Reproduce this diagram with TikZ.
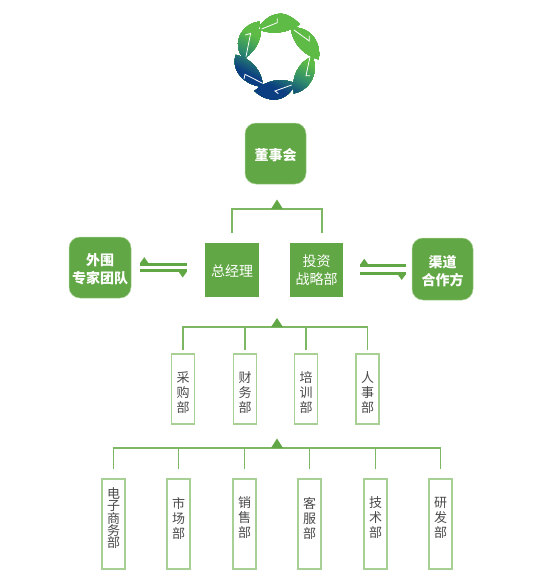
\documentclass[tikz,border=0pt]{standalone}
\usepackage{fontspec}
\setmainfont{Noto Sans CJK SC}
\usetikzlibrary{calc}
\definecolor{gmain}{HTML}{62A745}
\definecolor{gline}{HTML}{7DB764}
\definecolor{gbox}{HTML}{A8CF94}
\definecolor{tgrey}{HTML}{4A4A4A}
\definecolor{lfa}{HTML}{5DBB46}
\definecolor{lfb}{HTML}{2F8C6C}
\definecolor{lfc}{HTML}{0C3F82}
\tikzset{
  boss/.style={fill=gmain,draw=gbox,line width=0.5pt,rounded corners=11pt,inner sep=0pt},
  bossname/.style={text=white,font=\fontsize{14}{17.5}\selectfont\bfseries,align=center,inner sep=0pt},
  core/.style={fill=gmain,inner sep=0pt,minimum width=53.5pt,minimum height=53.5pt},
  corename/.style={text=white,font=\fontsize{14}{18.5}\selectfont,align=center,inner sep=0pt},
  dept/.style={draw=gbox,line width=1.1pt,fill=white,inner sep=0pt,minimum width=23pt},
  deptname/.style={text=tgrey,font=\fontsize{13}{15}\selectfont,align=center,inner sep=0pt},
  linkline/.style={draw=gline,line width=1.1pt},
  tri/.style={fill=gmain},
  bar/.style={draw=gmain,line width=3pt},
  vein/.style={draw=white,line width=0.8pt}
}
\begin{document}
\begin{tikzpicture}[x=1pt,y=-1pt]
\useasboundingbox (0,0) rectangle (550,587);
% logo
\begin{scope}[shift={(220,5)},x=0.3333pt,y=-0.3333pt]
\begin{scope}
\clip
 (113,72) .. controls (135,38) and (160,26) .. (185,26) .. controls (205,28) and (225,42) .. (240,58) .. controls (205,82) and (160,92) .. (113,72) -- cycle
 (212,68) .. controls (265,62) and (305,105) .. (296,163) .. controls (250,150) and (218,115) .. (212,68) -- cycle
 (277,155) .. controls (298,200) and (272,255) .. (222,265) .. controls (212,220) and (235,170) .. (277,155) -- cycle
 (224,235) .. controls (210,285) and (150,302) .. (104,258) .. controls (135,228) and (185,215) .. (224,235) -- cycle
 (128,245) .. controls (75,242) and (30,195) .. (48,150) .. controls (95,160) and (128,200) .. (128,245) -- cycle
 (118,50) .. controls (68,55) and (30,115) .. (72,162) .. controls (112,135) and (132,90) .. (118,50) -- cycle;
\foreach \s in {-100,-96,...,220}{
  \pgfmathsetmacro\mixA{max(0,min(100,(\s-35)/55*100))}
  \pgfmathsetmacro\mixB{max(0,min(100,(\s-90)/55*100))}
  \ifdim\s pt<90pt \colorlet{stripcol}{lfb!\mixA!lfa}\else\colorlet{stripcol}{lfc!\mixB!lfb}\fi
  \fill[stripcol] ($\s*(-0.45,0.89)+500*(0.89,0.45)$) -- ($\s*(-0.45,0.89)-500*(0.89,0.45)$) -- ($\s*(-0.45,0.89)-500*(0.89,0.45)+700*(-0.45,0.89)$) -- ($\s*(-0.45,0.89)+500*(0.89,0.45)+700*(-0.45,0.89)$) -- cycle;
}
\end{scope}
\draw[vein] (172,40) -- (172,53) -- (125,72);
\draw[vein] (268,92) -- (268,108) -- (222,75);
\draw[vein] (270,155) -- (258,212) -- (270,212);
\draw[vein] (215,240) -- (165,258) -- (175,266);
\draw[vein] (72,222) -- (75,208) -- (128,235);
\draw[vein] (78,155) -- (92,85) -- (76,90);
\end{scope}
% top
\node[boss,minimum width=61pt,minimum height=61pt,label={[bossname,yshift=-1.5pt]center:{董事会}}] (board) at (275.5,153.5) {};
\node[core,label={[corename,yshift=-1pt]center:{总经理}}] (gm) at (232,270) {};
\node[core,label={[corename]center:{投资\\战略部}}] (inv) at (316.5,270) {};
\node[boss,minimum width=62pt,minimum height=61pt,label={[bossname,yshift=-1.5pt]center:{外围\\专家团队}}] (ext) at (100,267.5) {};
\node[boss,minimum width=61pt,minimum height=62pt,label={[bossname,yshift=-2pt]center:{渠道\\合作方}}] (chn) at (442.5,269) {};
\coordinate (hubA) at (277,209);
\coordinate (hubB) at (277,327);
\coordinate (hubC) at (277,448);
\draw[linkline] ([yshift=10pt]gm.north) |- (hubA) -| ([yshift=10pt,xshift=5.5pt]inv.north);
\fill[tri] (hubA) ++(-6,0) -- ++(12,0) -- ++(-6,-9.5) -- cycle;
% double arrows
\coordinate (lu1) at (140,264.2); \coordinate (lu2) at (187,264.2);
\coordinate (ld1) at (140,270.5); \coordinate (ld2) at (187,270.5);
\draw[bar] (lu1) -- (lu2); \draw[bar] (ld1) -- (ld2);
\fill[tri] (lu1) ++(0,-1) -- ++(8.5,0) -- ++(-4.2,-6) -- cycle;
\fill[tri] (ld2) ++(0,1) -- ++(-8.5,0) -- ++(4.2,6) -- cycle;
\coordinate (ru1) at (360,265.7); \coordinate (ru2) at (406,265.7);
\coordinate (rd1) at (360,273); \coordinate (rd2) at (406,273);
\draw[bar] (ru1) -- (ru2); \draw[bar] (rd1) -- (rd2);
\fill[tri] (ru1) ++(0,-1) -- ++(8.5,0) -- ++(-4.2,-6) -- cycle;
\fill[tri] (rd2) ++(0,1) -- ++(-8.5,0) -- ++(4.2,6) -- cycle;
% level 2
\node[dept,minimum height=70pt,label={[deptname,yshift=-4pt]center:{采\\购\\部}}] (p1) at (183,389) {};
\node[dept,minimum height=70pt,label={[deptname,yshift=-4pt]center:{财\\务\\部}}] (p2) at (245,389) {};
\node[dept,minimum height=70pt,label={[deptname,yshift=-4pt]center:{培\\训\\部}}] (p3) at (306,389) {};
\node[dept,minimum height=70pt,label={[deptname,yshift=-4pt]center:{人\\事\\部}}] (p4) at (367.5,389) {};
\draw[linkline] ([yshift=3pt]p1.north) |- (hubB) -| ([yshift=3pt]p4.north);
\draw[linkline] ([yshift=3pt]p2.north) -- (p2.north |- hubB);
\draw[linkline] ([yshift=3pt]p3.north) -- (p3.north |- hubB);
\fill[tri] (hubB) ++(-6,0) -- ++(12,0) -- ++(-6,-9) -- cycle;
% level 3
\node[dept,minimum height=90pt,label={[deptname,yshift=6pt,font=\fontsize{13}{12}\selectfont]center:{电\\子\\商\\务\\部}}] (s1) at (113.5,524) {};
\node[dept,minimum height=90pt,label={[deptname,yshift=6pt]center:{市\\场\\部}}] (s2) at (178.5,524) {};
\node[dept,minimum height=90pt,label={[deptname,yshift=6pt]center:{销\\售\\部}}] (s3) at (244.5,524) {};
\node[dept,minimum height=90pt,label={[deptname,yshift=6pt]center:{客\\服\\部}}] (s4) at (309.5,524) {};
\node[dept,minimum height=90pt,label={[deptname,yshift=6pt]center:{技\\术\\部}}] (s5) at (375.5,524) {};
\node[dept,minimum height=90pt,label={[deptname,yshift=6pt]center:{研\\发\\部}}] (s6) at (440.5,524) {};
\draw[linkline] ([yshift=9pt]s1.north) |- (hubC) -| ([yshift=9pt]s6.north);
\foreach \k in {s2,s3,s4,s5}{\draw[linkline] ([yshift=9pt]\k.north) -- (\k.north |- hubC);}
\fill[tri] (hubC) ++(-6,0) -- ++(12,0) -- ++(-6,-9.5) -- cycle;
\end{tikzpicture}
\end{document}
